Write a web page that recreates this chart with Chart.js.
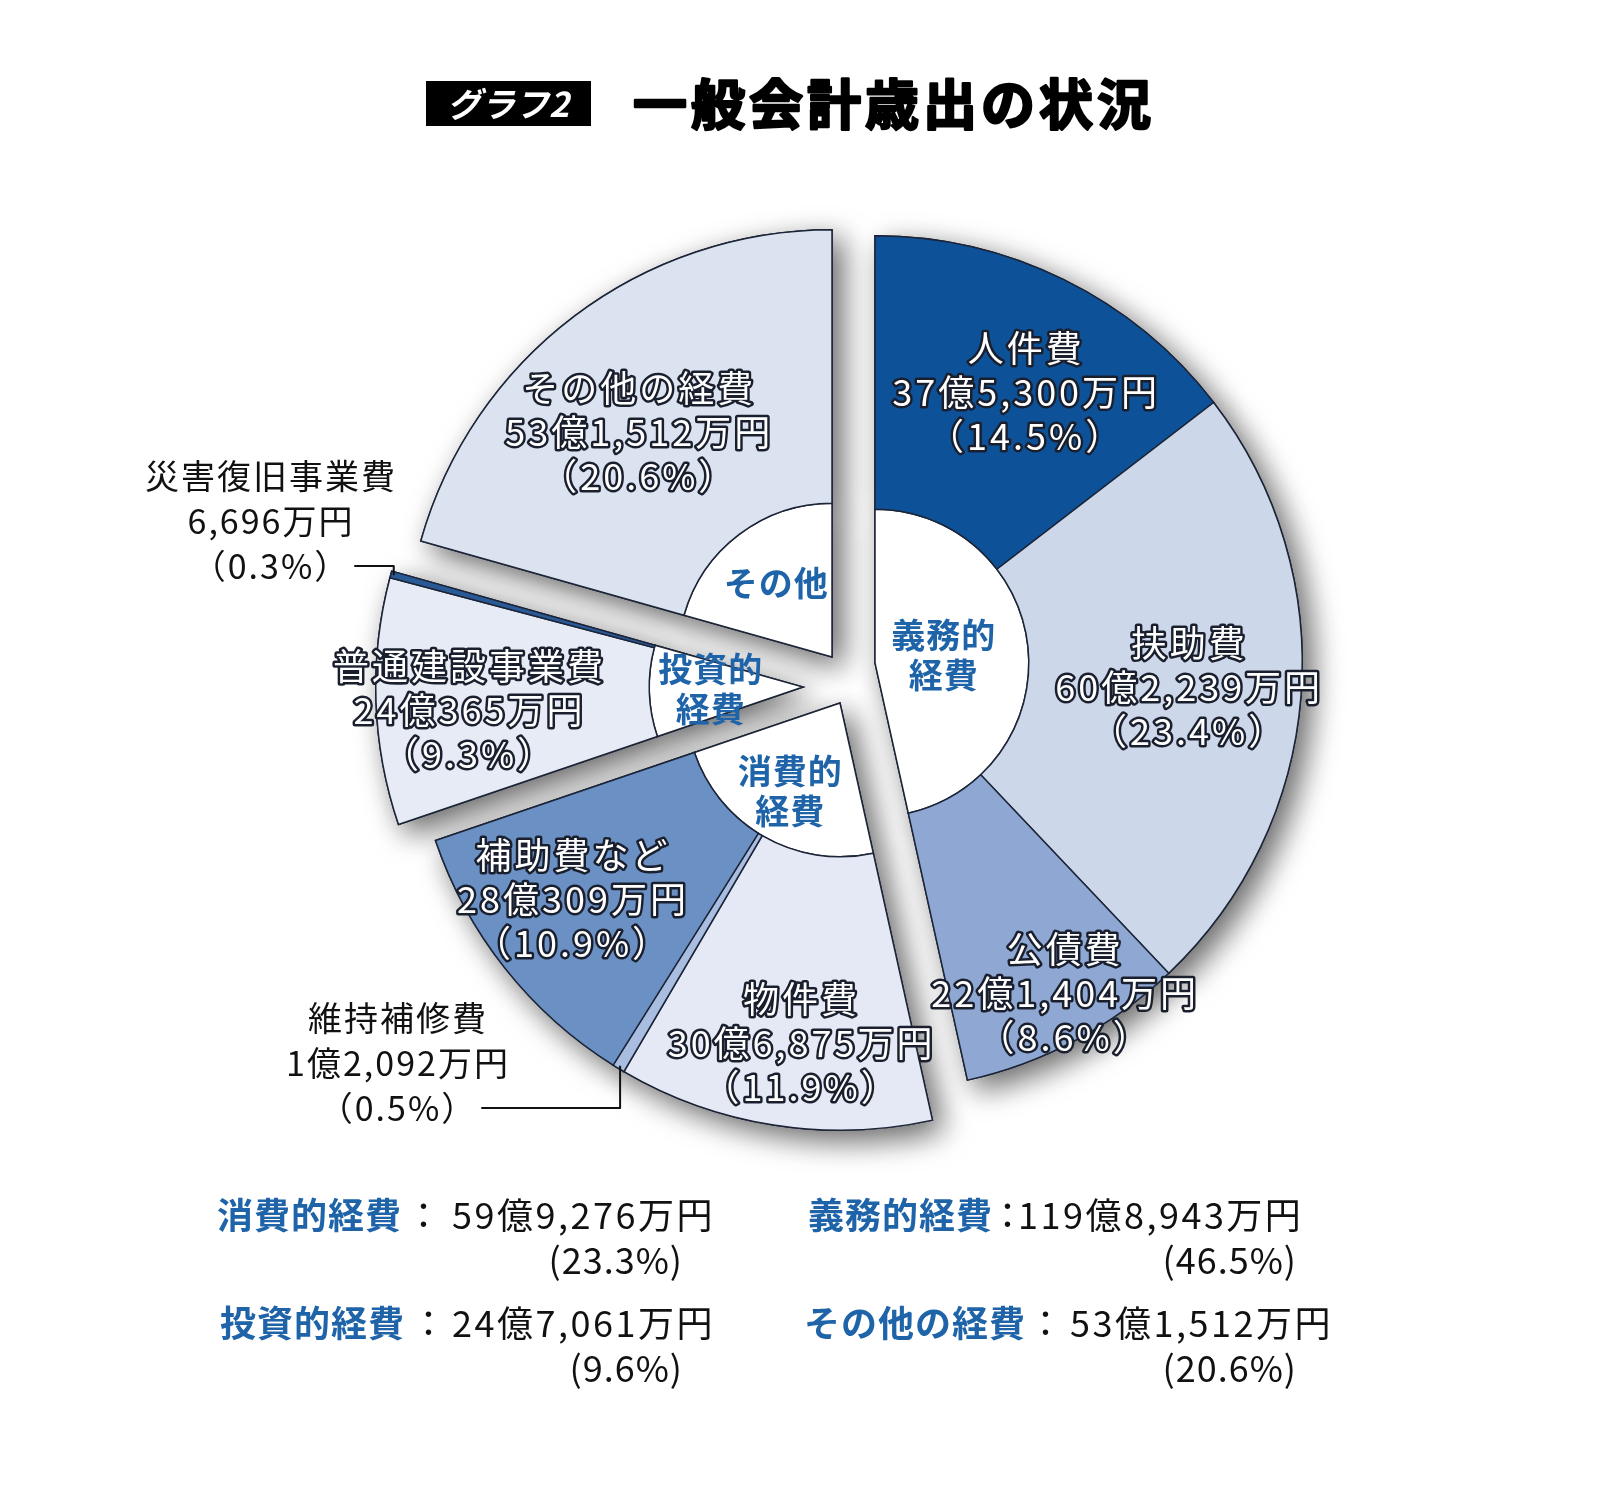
<!DOCTYPE html>
<html>
<head>
  <title>一般会計歳出の状況</title>
  <meta charset="utf-8" />
  <script src="https://cdn.jsdelivr.net/npm/chart.js"></script>
  <style>
    body { margin: 0; padding: 0; background: #fff; }
    #wrap { width: 1621px; height: 1509px; position: relative; }
  </style>
</head>
<body>
<div id="wrap"><canvas id="chart"></canvas></div>
<script>
  // 歳出の内訳（単位：万円）
  const items = ['人件費', '扶助費', '公債費', '物件費', '維持補修費', '補助費など', '普通建設事業費', '災害復旧事業費', 'その他の経費'];
  const amounts = [375300, 602239, 221404, 306875, 12092, 280309, 240365, 6696, 531512];
  const shares = [14.5, 23.4, 8.6, 11.9, 0.5, 10.9, 9.3, 0.3, 20.6];   // 図中の表記どおり
  const groupOf = [0, 0, 0, 1, 1, 1, 2, 2, 3];
  const groups = ['義務的経費', '消費的経費', '投資的経費', 'その他の経費'];
  const groupShort = ['義務的\n経費', '消費的\n経費', '投資的\n経費', 'その他'];
  const groupShares = [46.5, 23.3, 9.6, 20.6];

  const groupTotals = groups.map((g, k) => amounts.reduce((s, v, i) => groupOf[i] === k ? s + v : s, 0));

  const sliceColors = ['#0d5298', '#cdd7ea', '#8fa8d3', '#e4e9f5', '#a9bde0', '#6a90c4', '#e6ebf6', '#2a5a96', '#dce3f0'];
  const edge = '#1c2438';
  const blue = '#1f64a8';
  const JP = '"Noto Sans CJK JP", sans-serif';

  // グループごとの切り離し量 (px)
  const shift = [[30, -12], [-5, 28], [-42, 12], [-13, -18]];
  // ラベル位置: [リング内の半径比, 角度補正(度)]
  const labelFit = [[0.57, 3], [0.59, 0], [0.83, -2], [0.69, -2.5], null, [0.65, 2], [0.66, -2], null, [0.52, -3.5]];
  const innerFit = [0.45, 0.66, 0.6, 0.6];

  function yen(v) {
    const oku = Math.floor(v / 10000), man = v % 10000;
    return (oku ? oku + '億' : '') + (man ? man.toLocaleString('en-US') : '') + '万円';
  }

  function lines(ctx, text, x, y, lh, outline) {
    const rows = text.split('\n');
    rows.forEach((t, i) => {
      const yy = y + (i - (rows.length - 1) / 2) * lh;
      if (outline) {
        ctx.lineJoin = 'round';
        ctx.lineWidth = 5;
        ctx.strokeStyle = '#1a1f2e';
        ctx.strokeText(t, x, yy);
        ctx.fillStyle = '#fff';
      }
      ctx.fillText(t, x, yy);
    });
  }

  const explode = {
    id: 'explode',
    afterDatasetsUpdate(chart) {
      chart.getDatasetMeta(0).data.forEach((arc, i) => {
        const [dx, dy] = shift[groupOf[i]];
        arc.x += dx; arc.y += dy;
      });
      chart.getDatasetMeta(1).data.forEach((arc, i) => {
        const [dx, dy] = shift[i];
        arc.x += dx; arc.y += dy;
      });
    },
    beforeDatasetsDraw(chart) {
      const ctx = chart.ctx;
      ctx.save();
      ctx.shadowColor = 'rgba(0,0,0,0.6)';
      ctx.shadowBlur = 30;
      ctx.shadowOffsetX = 10;
      ctx.shadowOffsetY = 10;
      [1, 0].forEach(d => chart.getDatasetMeta(d).data.forEach(a => a.draw(ctx)));
      ctx.restore();
    }
  };

  const labels = {
    id: 'labels',
    afterDatasetsDraw(chart) {
      const ctx = chart.ctx;
      ctx.save();
      ctx.textAlign = 'center';
      ctx.textBaseline = 'middle';
      if ('letterSpacing' in ctx) ctx.letterSpacing = '3px';

      // 各項目
      ctx.font = '36px ' + JP;
      chart.getDatasetMeta(0).data.forEach((arc, i) => {
        const fit = labelFit[i];
        if (!fit) return;
        const p = arc.getProps(['x', 'y', 'startAngle', 'endAngle', 'innerRadius', 'outerRadius']);
        const a = (p.startAngle + p.endAngle) / 2 + fit[1] * Math.PI / 180;
        const r = p.innerRadius + (p.outerRadius - p.innerRadius) * fit[0];
        const txt = items[i] + '\n' + yen(amounts[i]) + '\n（' + shares[i].toFixed(1) + '%）';
        lines(ctx, txt, p.x + r * Math.cos(a), p.y + r * Math.sin(a), 44, true);
      });

      // 中央のグループ名
      ctx.font = 'bold 34px ' + JP;
      ctx.fillStyle = blue;
      if ('letterSpacing' in ctx) ctx.letterSpacing = '1px';
      chart.getDatasetMeta(1).data.forEach((arc, k) => {
        const p = arc.getProps(['x', 'y', 'startAngle', 'endAngle', 'outerRadius']);
        const a = (p.startAngle + p.endAngle) / 2;
        const r = p.outerRadius * innerFit[k];
        lines(ctx, groupShort[k], p.x + r * Math.cos(a), p.y + r * Math.sin(a), 40, false);
      });

      // 引き出し線付きの小さい項目
      const callouts = [[7, 271, 476], [4, 398, 1018]];
      ctx.font = '34px ' + JP;
      ctx.fillStyle = '#111';
      if ('letterSpacing' in ctx) ctx.letterSpacing = '2px';
      callouts.forEach(([i, cx, top]) => {
        const rows = [items[i], yen(amounts[i]), '（' + shares[i].toFixed(1) + '%）'];
        rows.forEach((t, j) => ctx.fillText(t, cx, top + j * 45));
        const arc = chart.getDatasetMeta(0).data[i];
        const p = arc.getProps(['x', 'y', 'startAngle', 'endAngle', 'outerRadius']);
        const a = (p.startAngle + p.endAngle) / 2;
        const ax = p.x + (p.outerRadius - 3) * Math.cos(a);
        const ay = p.y + (p.outerRadius - 3) * Math.sin(a);
        const ly = top + 2 * 45;
        const lx = cx + ctx.measureText(rows[2]).width / 2 + 4;
        ctx.beginPath();
        ctx.lineWidth = 2;
        ctx.strokeStyle = '#111';
        ctx.moveTo(lx, ly);
        ctx.lineTo(ax, ly);
        ctx.lineTo(ax, ay);
        ctx.stroke();
      });
      ctx.restore();
    }
  };

  const titleAndSummary = {
    id: 'titleAndSummary',
    afterDraw(chart) {
      const ctx = chart.ctx;
      ctx.save();
      ctx.textBaseline = 'middle';
      // タイトル
      ctx.fillStyle = '#000';
      ctx.fillRect(426, 81, 165, 45);
      ctx.fillStyle = '#fff';
      ctx.textAlign = 'center';
      ctx.font = 'italic bold 34px ' + JP;
      ctx.fillText('グラフ2', 508, 104);
      ctx.fillStyle = '#000';
      ctx.strokeStyle = '#000';
      ctx.lineWidth = 2.5;
      ctx.lineJoin = 'round';
      ctx.textAlign = 'left';
      ctx.font = 'bold 54px ' + JP;
      if ('letterSpacing' in ctx) ctx.letterSpacing = '4px';
      ctx.strokeText('一般会計歳出の状況', 633, 104);
      ctx.fillText('一般会計歳出の状況', 633, 104);

      // 下部の集計
      const spots = [
        { k: 1, x: 217, y: 1215, colon: 424, val: 452, pr: 683 },
        { k: 0, x: 808, y: 1215, colon: 1008, val: 1018, pr: 1297 },
        { k: 2, x: 220, y: 1323, colon: 429, val: 452, pr: 683 },
        { k: 3, x: 804, y: 1323, colon: 1046, val: 1070, pr: 1297 }
      ];
      spots.forEach(s => {
        if ('letterSpacing' in ctx) ctx.letterSpacing = '1px';
        ctx.font = 'bold 36px ' + JP;
        ctx.fillStyle = blue;
        ctx.textAlign = 'left';
        ctx.fillText(groups[s.k], s.x, s.y);
        ctx.fillStyle = '#111';
        ctx.font = '36px ' + JP;
        ctx.textAlign = 'center';
        ctx.fillText('：', s.colon, s.y);
        ctx.textAlign = 'left';
        if ('letterSpacing' in ctx) ctx.letterSpacing = '2.5px';
        ctx.fillText(yen(groupTotals[s.k]), s.val, s.y);
        ctx.textAlign = 'right';
        if ('letterSpacing' in ctx) ctx.letterSpacing = '1px';
        ctx.fillText('(' + groupShares[s.k].toFixed(1) + '%)', s.pr, s.y + 45);
      });
      ctx.restore();
    }
  };

  const chart = new Chart(document.getElementById('chart'), {
    type: 'pie',
    data: {
      labels: items,
      datasets: [
        { data: amounts, backgroundColor: sliceColors, borderColor: edge, borderWidth: 1.5, borderJoinStyle: 'miter', weight: 64 },
        { data: groupTotals, backgroundColor: '#ffffff', borderColor: edge, borderWidth: 1.5, borderJoinStyle: 'miter', weight: 36 }
      ]
    },
    options: {
      responsive: true,
      maintainAspectRatio: false,
      animation: false,
      events: [],
      layout: { padding: { left: 417, right: 348, top: 247, bottom: 406 } },
      plugins: {
        legend: { display: false },
        tooltip: { enabled: false },
        title: { display: false }
      }
    },
    plugins: [explode, labels, titleAndSummary]
  });

  if (document.fonts) document.fonts.ready.then(() => chart.draw());
</script>
</body>
</html>
